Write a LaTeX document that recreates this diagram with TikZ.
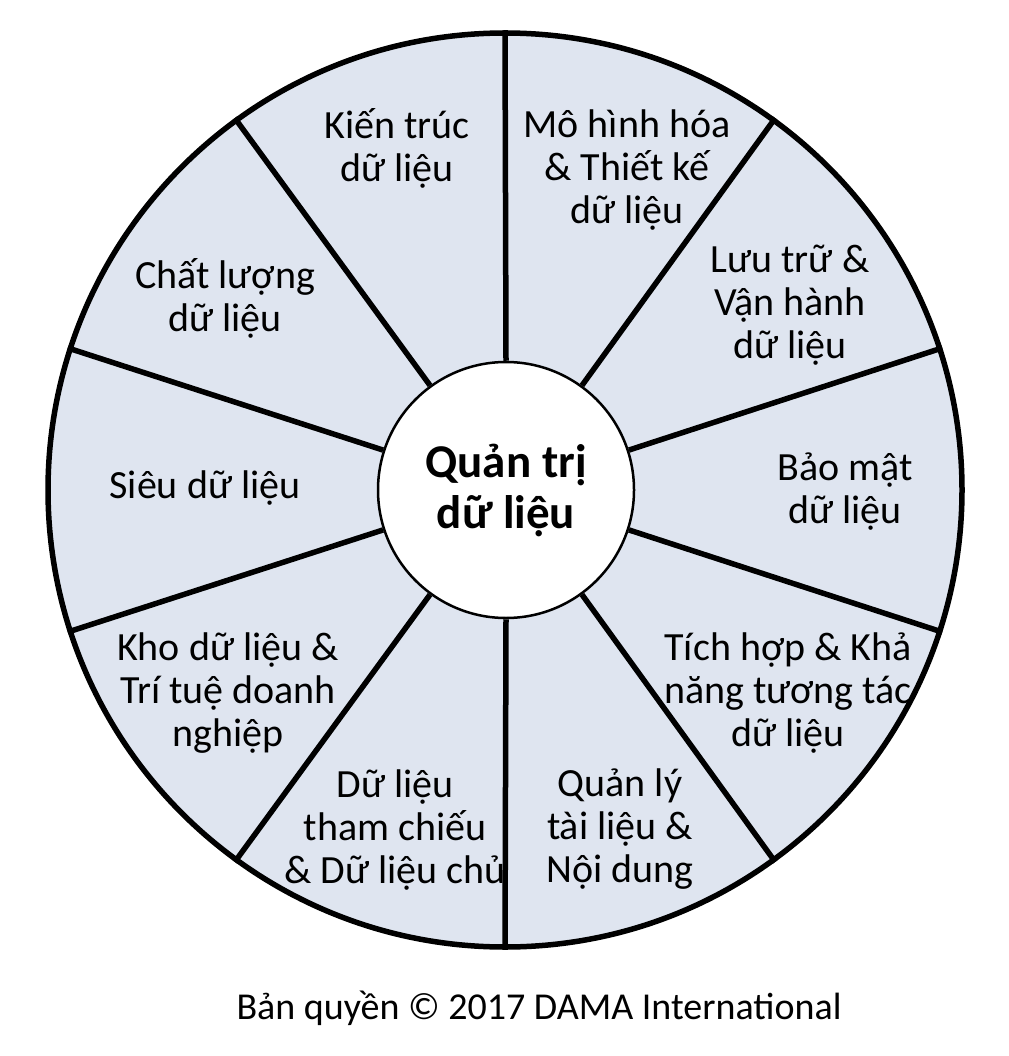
\documentclass[tikz,border=0pt]{standalone}
\usepackage{fontspec}
\setmainfont{Carlito}
\usetikzlibrary{shapes}
\definecolor{wheelfill}{RGB}{223,229,240}
\tikzstyle{wheel} = [circle, minimum size=914pt, inner sep=0pt, draw=black, line width=5.5pt, fill=wheelfill]
\tikzstyle{hub} = [circle, minimum size=256pt, inner sep=0pt, draw=black, line width=2.5pt, fill=white, align=center, font=\fontsize{47}{51}\selectfont\bfseries]
\tikzstyle{area} = [align=center, inner sep=0pt, font=\fontsize{40}{43}\selectfont]
\tikzstyle{caption} = [inner sep=0pt, font=\fontsize{38}{43}\selectfont]
\tikzstyle{spoke} = [draw, line width=5.5pt]

\begin{document}
\begin{tikzpicture}[x=1pt, y=-1pt]
    \useasboundingbox (0,0) rectangle (1008,1056);
    % Draw nodes
    % Wheel and hub
    \node (wheel) [wheel] at (505,490) {};
    \node (hub) [hub] at (506,490) {Quản trị\\dữ liệu};

    % Draw spokes
    \path [spoke] (hub.18) -- (wheel.18);
    \path [spoke] (hub.54) -- (wheel.54);
    \path [spoke] (hub.90) -- (wheel.90);
    \path [spoke] (hub.126) -- (wheel.126);
    \path [spoke] (hub.162) -- (wheel.162);
    \path [spoke] (hub.198) -- (wheel.198);
    \path [spoke] (hub.234) -- (wheel.234);
    \path [spoke] (hub.270) -- (wheel.270);
    \path [spoke] (hub.306) -- (wheel.306);
    \path [spoke] (hub.342) -- (wheel.342);

    % Areas, clockwise from top
    \node (kientruc) [area] at (397,148) {Kiến trúc\\dữ liệu};
    \node (mohinh) [area] at (627,170) {Mô hình hóa\\\& Thiết kế\\dữ liệu};
    \node (luutru) [area] at (790,305) {Lưu trữ \&\\Vận hành\\dữ liệu};
    \node (baomat) [area] at (845,492) {Bảo mật\\dữ liệu};
    \node (tichhop) [area] at (788,693) {Tích hợp \& Khả\\năng tương tác\\dữ liệu};
    \node (quanly) [area] at (620,829) {Quản lý\\tài liệu \&\\Nội dung};
    \node (thamchieu) [area] at (395,830) {Dữ liệu\\tham chiếu\\\& Dữ liệu chủ};
    \node (kho) [area] at (228,693) {Kho dữ liệu \&\\Trí tuệ doanh\\nghiệp};
    \node (sieu) [area] at (205,488) {Siêu dữ liệu};
    \node (chatluong) [area] at (225,298) {Chất lượng\\dữ liệu};

    % Caption
    \node (banquyen) [caption] at (539,1008) {Bản quyền © 2017 DAMA International};
\end{tikzpicture}
\end{document}
